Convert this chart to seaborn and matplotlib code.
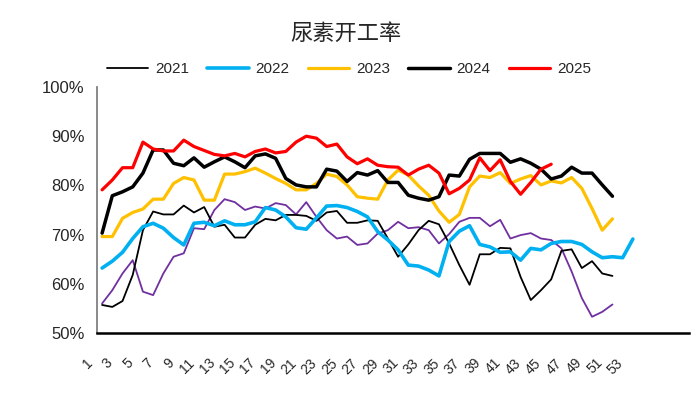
import numpy as np
import matplotlib
matplotlib.use('Agg')
import matplotlib.pyplot as plt
import matplotlib.transforms as mtransforms
import seaborn as sns

# weekly urea operating rate (%)
y2021 = [55.7, 55.3, 56.5, 61.8, 70.9, 74.7, 74.1, 74.1, 75.9, 74.5,
         75.6, 71.6, 72.0, 69.4, 69.4, 72.0, 73.2, 72.9, 74.0, 74.0,
         73.8, 72.8, 74.5, 74.8, 72.4, 72.4, 72.9, 72.8, 69.2, 65.5,
         68.0, 70.9, 72.8, 72.1, 68.2, 63.8, 59.8, 66.0, 66.0, 67.3,
         67.2, 61.4, 56.7, 58.7, 60.9, 66.7, 67.0, 63.2, 64.6, 62.1, 61.6]
y2022 = [63.2, 64.6, 66.4, 69.2, 71.6, 72.3, 71.3, 69.4, 67.9, 72.3,
         72.5, 71.8, 72.8, 72.0, 72.0, 72.6, 75.5, 75.0, 73.6, 71.4,
         71.1, 73.4, 75.8, 75.9, 75.5, 74.7, 73.6, 70.6, 68.9, 66.9,
         63.8, 63.6, 62.8, 61.6, 68.6, 70.7, 71.8, 68.0, 67.5, 66.4,
         66.5, 64.8, 67.2, 66.9, 68.2, 68.6, 68.6, 68.0, 66.5, 65.3,
         65.5, 65.3, 69.1]
y2023 = [69.6, 69.6, 73.3, 74.5, 75.2, 77.2, 77.2, 80.4, 81.6, 81.1,
         77.0, 77.0, 82.3, 82.3, 82.8, 83.5, 82.5, 81.4, 80.4, 79.1,
         79.1, 80.4, 82.3, 81.8, 80.1, 77.7, 77.4, 77.2, 81.1, 83.1,
         82.1, 79.9, 78.0, 74.8, 72.5, 74.1, 79.7, 81.9, 81.6, 82.6,
         80.4, 81.3, 82.0, 80.1, 80.9, 80.5, 81.6, 79.4, 75.3, 70.9, 73.2]
y2024 = [70.3, 77.9, 78.7, 79.7, 82.5, 87.2, 87.2, 84.5, 84.0, 85.6,
         83.7, 84.8, 85.8, 84.8, 83.6, 86.0, 86.4, 85.5, 81.4, 80.1,
         79.7, 79.7, 83.3, 82.9, 80.8, 82.6, 82.1, 83.0, 80.6, 80.6,
         78.0, 77.4, 77.0, 77.7, 82.1, 81.9, 85.3, 86.5, 86.5, 86.5,
         84.7, 85.4, 84.5, 83.3, 81.3, 81.9, 83.7, 82.5, 82.5, 80.1, 77.8]
y2025 = [79.1, 81.1, 83.6, 83.6, 88.8, 87.4, 87.0, 87.0, 89.2, 87.9,
         87.1, 86.3, 86.0, 86.5, 85.8, 86.9, 87.4, 86.6, 86.9, 88.8,
         90.0, 89.6, 87.9, 88.4, 85.8, 84.4, 85.4, 84.1, 83.8, 83.7,
         82.1, 83.3, 84.1, 82.5, 78.3, 79.4, 81.1, 85.6, 83.0, 85.2,
         80.8, 78.2, 80.6, 83.3, 84.3]
# unlabelled purple series
y_other = [56.0, 58.7, 62.1, 64.8, 58.4, 57.7, 62.1, 65.5, 66.2, 71.3,
           71.1, 75.0, 77.2, 76.6, 75.0, 75.7, 75.3, 76.4, 76.0, 74.1,
           76.6, 73.6, 70.9, 69.2, 69.6, 67.9, 68.2, 70.2, 70.9, 72.6,
           71.3, 71.5, 70.9, 68.2, 70.1, 72.6, 73.4, 73.4, 71.7, 73.0,
           69.2, 69.9, 70.3, 69.2, 68.9, 67.2, 62.5, 57.1, 53.3, 54.3, 55.8]

week_labels = [str(w) for w in range(1, 54, 2)]

series = [
    (None, y_other, '#7030A0', 1.3),
    ('2021', y2021, '#000000', 1.3),
    ('2022', y2022, '#00B0F0', 2.6),
    ('2023', y2023, '#FFC000', 2.3),
    ('2024', y2024, '#000000', 2.5),
    ('2025', y2025, '#FF0000', 2.3),
]

sns.set_style('white')
plt.rcParams['font.family'] = ['Liberation Sans Narrow', 'Liberation Sans', 'DejaVu Sans']

fig = plt.figure(figsize=(6.92, 3.99), dpi=100)
ax = fig.add_axes([97 / 692, 1 - 333 / 399, (689 - 97) / 692, (333 - 87) / 399])

for name, vals, color, lw in series:
    weeks = np.arange(1, len(vals) + 1)
    sns.lineplot(x=weeks, y=vals, ax=ax, color=color, linewidth=lw,
                 label=name, legend=False)

ax.set_xlim(0.5, 58.5)
ax.set_ylim(50, 100)
ax.set_yticks(range(50, 101, 10))
ax.set_yticklabels([f'{v}%' for v in range(50, 101, 10)], fontsize=12)
ax.set_xlabel('')
ax.set_ylabel('')

# tick marks every 5 weeks, labels every 2 weeks
ax.set_xticks(np.arange(5.5, 56, 5))
ax.set_xticklabels([])
ax.set_xticks(range(1, 54, 2), minor=True)
ax.set_xticklabels(week_labels, minor=True, rotation=45, ha='right', va='center',
                   rotation_mode='anchor', fontsize=10)
ax.tick_params(axis='x', which='major', direction='in', length=5, width=1.3, color='black')
ax.tick_params(axis='x', which='minor', length=0, pad=20)
ax.tick_params(axis='y', direction='in', length=5, width=1.2, color='#808080', pad=9)
shift = mtransforms.ScaledTranslation(-0.12, 0, fig.dpi_scale_trans)
for lab in ax.get_xticklabels(minor=True):
    lab.set_transform(lab.get_transform() + shift)

for side in ['top', 'right']:
    ax.spines[side].set_visible(False)
ax.spines['left'].set_color('#808080')
ax.spines['left'].set_linewidth(1.3)
ax.spines['bottom'].set_color('black')
ax.spines['bottom'].set_linewidth(1.8)

handles, labels = ax.get_legend_handles_labels()
ax.legend(handles, labels, loc='center', bbox_to_anchor=(349 / 692, 1 - 69 / 399),
          bbox_transform=fig.transFigure, ncol=5, frameon=False, fontsize=11,
          handlelength=2.7, handletextpad=0.45, columnspacing=1.2)

fig.text(0.5, 1 - 33 / 399, '尿素开工率', ha='center', va='center', fontsize=16,
         family=['Noto Sans CJK SC', 'DejaVu Sans'])

plt.savefig('out.png', dpi=100)
